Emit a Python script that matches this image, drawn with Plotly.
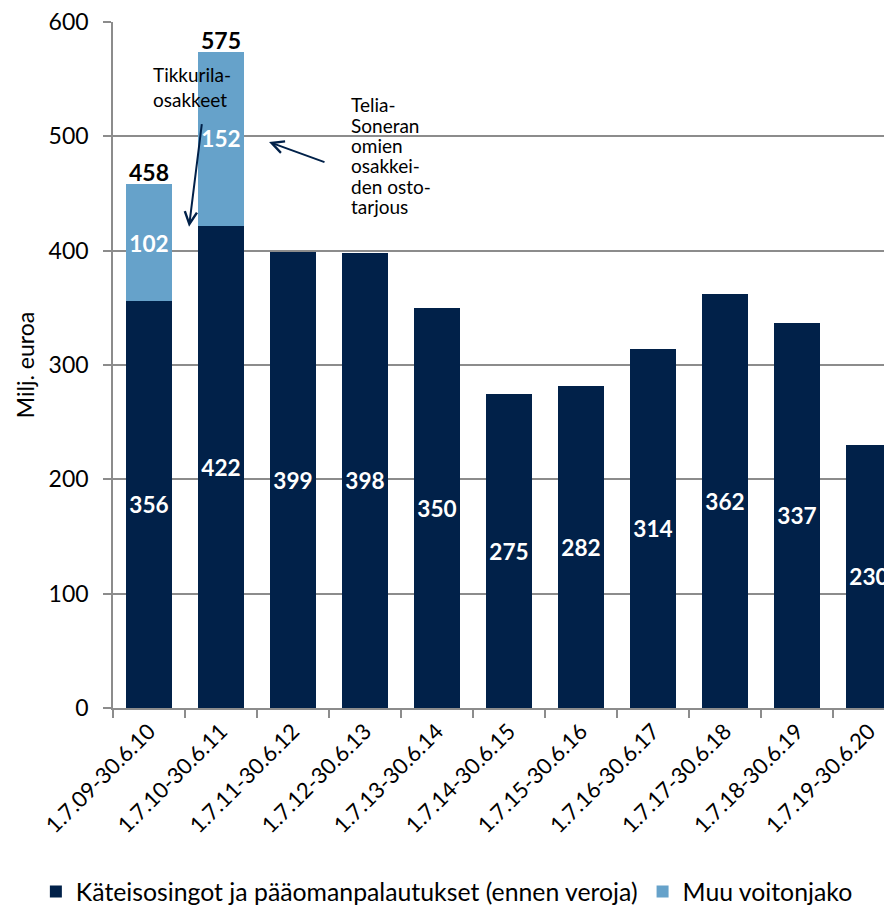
import plotly.graph_objects as go

categories = ["1.7.09-30.6.10", "1.7.10-30.6.11", "1.7.11-30.6.12", "1.7.12-30.6.13",
              "1.7.13-30.6.14", "1.7.14-30.6.15", "1.7.15-30.6.16", "1.7.16-30.6.17",
              "1.7.17-30.6.18", "1.7.18-30.6.19", "1.7.19-30.6.20"]
cash = [356, 422, 399, 398, 350, 275, 282, 314, 362, 337, 230]
other = [102, 152, None, None, None, None, None, None, None, None, None]
totals = [458, 575]
note_tikkurila = "Tikkurila-<br>osakkeet"
note_telia = ["Telia-", "Soneran", "omien", "osakkei-", "den osto-", "tarjous"]

DARK = "#012149"
LIGHT = "#66A2CA"
FONT = "Lato"

fig = go.Figure()
fig.add_trace(go.Bar(
    x=categories, y=cash, name="Käteisosingot ja pääomanpalautukset (ennen veroja)",
    marker=dict(color=DARK, line=dict(width=0)), width=0.63,
    text=["<b>%d</b>" % v for v in cash], textposition="inside", insidetextanchor="middle",
    textfont=dict(color="white", size=23, family=FONT), textangle=0,
))
fig.add_trace(go.Bar(
    x=categories, y=other, name="Muu voitonjako",
    marker=dict(color=LIGHT, line=dict(width=0)), width=0.63,
    text=["<b>%d</b>" % v if v else "" for v in other], textposition="inside", insidetextanchor="middle",
    textfont=dict(color="white", size=23, family=FONT), textangle=0,
))

for i, t in enumerate(totals):
    fig.add_annotation(x=categories[i], y=cash[i] + other[i], text="<b>%d</b>" % t,
                       showarrow=False, yanchor="bottom", yshift=-4,
                       font=dict(size=23, color="black", family=FONT))

fig.add_annotation(x=0.03, y=543, xref="x", yref="y", text=note_tikkurila,
                   showarrow=False, align="left", xanchor="left", yanchor="middle",
                   font=dict(size=19, color="black", family=FONT))
fig.add_annotation(x=0.556, y=421, ax=0.736, ay=512, xref="x", yref="y", axref="x", ayref="y",
                   text="", showarrow=True, arrowhead=5, arrowsize=1.2, arrowwidth=2,
                   arrowcolor=DARK)
for k, line in enumerate(note_telia):
    fig.add_annotation(x=2.78, y=527.6, xref="x", yref="y", text=line, yshift=-20.4 * k,
                       showarrow=False, align="left", xanchor="left", yanchor="middle",
                       font=dict(size=19, color="black", family=FONT))
fig.add_annotation(x=1.667, y=495, ax=2.458, ay=477, xref="x", yref="y", axref="x", ayref="y",
                   text="", showarrow=True, arrowhead=5, arrowsize=1.2, arrowwidth=2,
                   arrowcolor=DARK)

fig.update_layout(
    width=892, height=907,
    barmode="stack",
    plot_bgcolor="white", paper_bgcolor="white",
    margin=dict(l=105, r=0, t=14, b=205),
    font=dict(family=FONT, size=20, color="black"),
    showlegend=True,
    legend=dict(orientation="h", x=-0.098, xanchor="left", y=-0.269, yanchor="middle",
                font=dict(size=24.8, family=FONT), traceorder="normal", itemwidth=30),
)
fig.update_xaxes(
    range=[-0.5, 10.43], tickangle=-45, tickfont=dict(size=22, family=FONT),
    showline=True, linecolor="#8c8c8c", linewidth=1.5,
    ticks="outside", tickson="boundaries", ticklen=8, tickcolor="#8c8c8c", tickwidth=1.5,
    showgrid=False, automargin=False,
)
fig.update_yaxes(
    range=[0, 600], dtick=100, showgrid=True, gridcolor="#8c8c8c", gridwidth=1.5,
    showline=True, linecolor="#8c8c8c", linewidth=1.5,
    ticks="outside", ticklen=8, tickcolor="#8c8c8c", tickwidth=1.5,
    tickfont=dict(size=23, family=FONT), ticklabeloverflow="allow", ticklabelstandoff=10,
    title=dict(text="Milj. euroa", font=dict(size=23, family=FONT), standoff=8),
    zeroline=False, automargin=False,
)

fig.write_html("out.html")
